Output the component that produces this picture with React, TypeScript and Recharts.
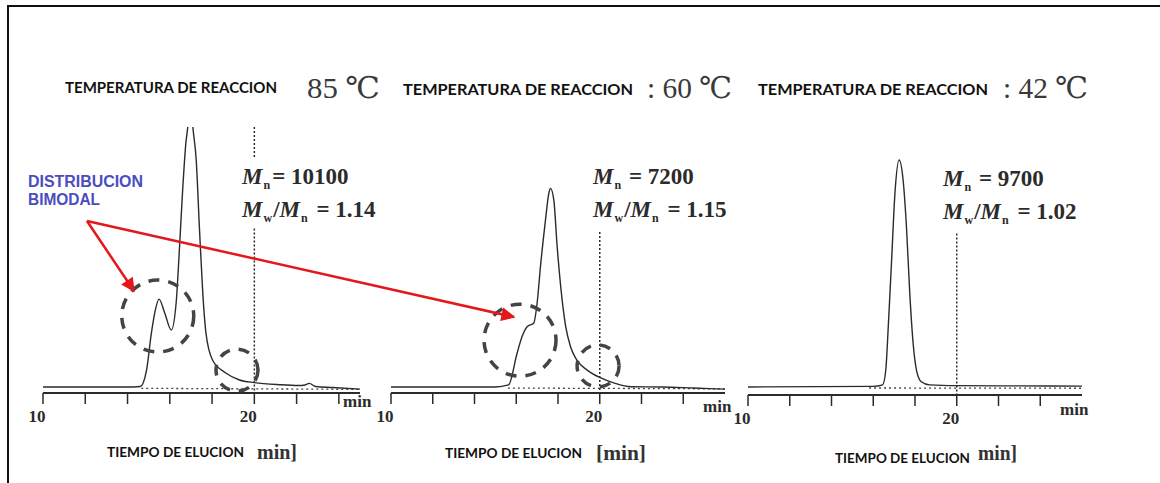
import React from 'react';
import { LineChart, Line, XAxis, YAxis, ReferenceLine, ReferenceDot } from 'recharts';

// eje de tiempo (min)
const timeTicks = [10, 12, 14, 16, 18, 20, 22, 24];
const labeledTicks = [10, 20];

// 85 °C
const time85 = [10, 14, 14.6, 14.9, 15.13, 15.3, 15.49, 15.76, 16.07, 16.3, 16.46, 16.6, 16.76, 16.85, 16.97, 17.09, 17.25, 17.4, 17.56, 17.71, 18.02, 18.65, 19.3, 20, 21.2, 22.1, 22.4, 22.6, 22.9, 23.7, 25];
const signal85 = [0, 0, 0.2, 6.5, 20.8, 29, 33.8, 28.5, 21.9, 32.3, 53.8, 74.6, 93.8, 100, 112, 100, 87.3, 61.5, 36.2, 20.8, 10.4, 5.4, 2.7, 1.7, 0.9, 0.6, 0.8, 1.4, 0.2, -0.2, -0.8];
const baseTime85 = [14.65, 25];
const baseSignal85 = [-0.5, -0.9];

// 60 °C
const time60 = [10, 15, 15.63, 16.04, 16.28, 16.52, 16.84, 17.0, 17.16, 17.4, 17.56, 17.64, 17.8, 17.96, 18.13, 18.37, 18.6, 18.9, 19.4, 20.05, 20.7, 21.5, 23, 24.5, 26];
const signal60 = [0, 0, 0.8, 13, 19.4, 23.2, 24.6, 32.3, 46.3, 64.2, 74.5, 76.4, 71.9, 54, 38.6, 23.2, 15.5, 10.4, 6.5, 3.5, 1.5, 0.1, 0, -0.4, -0.8];
const baseTime60 = [15.6, 26];
const baseSignal60 = [-0.4, -0.7];

// 42 °C
const time42 = [10, 16, 16.45, 16.6, 16.72, 16.88, 17.04, 17.24, 17.43, 17.59, 17.75, 17.91, 18.07, 18.3, 18.7, 20, 23, 26];
const signal42 = [0, 0.2, 0.8, 6.5, 23.2, 48.8, 74.6, 87.3, 79.6, 61.7, 36, 16.8, 6.5, 2, 0.8, 0.5, 0.4, 0.3];
const baseTime42 = [15.8, 26];
const baseSignal42 = [-0.4, -0.5];

const toRows = (xs: number[], ys: number[]) => xs.map((t, i) => ({ t, v: ys[i] }));

const INK = '#2b2b2b';
const SERIF = "'Liberation Serif', 'DejaVu Serif', serif";
const SANS = "Lato, 'Open Sans', sans-serif";

const AxisTick = ({ x, y, payload }: any) => {
  if (!labeledTicks.includes(payload.value)) return <g />;
  return (
    <text x={x - 6} y={y} dy={16} textAnchor="middle" fontFamily={SERIF} fontWeight="bold" fontSize={17} fill={INK}>
      {payload.value}
    </text>
  );
};

function Chromatogram(p: any) {
  const wrapTop = 100;
  const axisH = 47;
  const width = p.plotRight - p.plotLeft + 60;
  const height = p.plotBottom + axisH - wrapTop;
  return (
    <div style={{ position: 'absolute', left: p.plotLeft - 20, top: wrapTop }}>
      <LineChart width={width} height={height} margin={{ top: p.plotTop - wrapTop, right: 40, left: 20, bottom: 0 }}>
        <XAxis
          type="number"
          dataKey="t"
          domain={[10, p.xMax]}
          ticks={timeTicks}
          interval={0}
          tick={<AxisTick />}
          tickSize={11}
          tickLine={{ stroke: INK, strokeWidth: 1.5 }}
          axisLine={{ stroke: INK, strokeWidth: 2 }}
          height={axisH}
          allowDataOverflow
        />
        <YAxis hide type="number" domain={[p.yMin, 100]} allowDataOverflow />
        <Line
          data={p.baseline}
          dataKey="v"
          type="linear"
          stroke="#444"
          strokeWidth={1.3}
          strokeDasharray="2 3"
          dot={false}
          isAnimationActive={false}
        />
        <Line
          data={p.trace}
          dataKey="v"
          type="monotone"
          stroke={INK}
          strokeWidth={1.4}
          dot={false}
          isAnimationActive={false}
        />
        {p.cutLines.map(([a, b]: number[], i: number) => (
          <ReferenceLine
            key={i}
            segment={[{ x: 20, y: a }, { x: 20, y: b }]}
            stroke={INK}
            strokeWidth={1.5}
            strokeDasharray="2 2"
            ifOverflow="visible"
          />
        ))}
        {p.circles.map((c: any, i: number) => (
          <ReferenceDot
            key={i}
            x={c.t}
            y={c.v}
            r={c.r}
            fill="none"
            stroke="#444"
            strokeWidth={3.5}
            strokeDasharray="11 9"
            ifOverflow="visible"
          />
        ))}
      </LineChart>
    </div>
  );
}

const Ratio = ({ x, y, mn, ratio, gap }: any) => (
  <g fontFamily={SERIF} fontWeight="bold" fontSize={23} fill={INK}>
    <text x={x} y={y}>
      <tspan fontStyle="italic">M</tspan>
      <tspan fontSize={12} dy={5} dx={1}>n</tspan>
      <tspan dy={-5} dx={2}>{gap ? '=  ' : ' = '}{mn}</tspan>
    </text>
    <text x={x} y={y + 33}>
      <tspan fontStyle="italic">M</tspan>
      <tspan fontSize={12} dy={5} dx={1}>w</tspan>
      <tspan dy={-5} dx={1}>/</tspan>
      <tspan fontStyle="italic">M</tspan>
      <tspan fontSize={12} dy={5} dx={1}>n</tspan>
      <tspan dy={-5} dx={3}> = {ratio}</tspan>
    </text>
  </g>
);

export default function App() {
  const red = '#e3171c';
  return (
    <div style={{ position: 'absolute', left: 0, top: 0, width: 1160, height: 483, background: '#fff', overflow: 'hidden' }}>
      <div style={{ position: 'absolute', left: 8, top: 5, right: 0, height: 2, background: '#111' }} />
      <div style={{ position: 'absolute', left: 7, top: 5, width: 2, bottom: 0, background: '#111' }} />

      <Chromatogram
        plotLeft={43}
        plotRight={360}
        plotTop={127}
        plotBottom={393}
        xMax={25}
        yMin={-2.3}
        trace={toRows(time85, signal85)}
        baseline={toRows(baseTime85, baseSignal85)}
        cutLines={[[100, 88], [61, -2.3]]}
        circles={[{ t: 15.43, v: 27.3, r: 36 }, { t: 19.18, v: 6.5, r: 21 }]}
      />
      <Chromatogram
        plotLeft={391}
        plotRight={725}
        plotTop={127}
        plotBottom={393}
        xMax={26}
        yMin={-2.3}
        trace={toRows(time60, signal60)}
        baseline={toRows(baseTime60, baseSignal60)}
        cutLines={[[59.6, -2.3]]}
        circles={[{ t: 16.18, v: 18, r: 36 }, { t: 19.92, v: 8.1, r: 21 }]}
      />
      <Chromatogram
        plotLeft={748}
        plotRight={1082}
        plotTop={127}
        plotBottom={395}
        xMax={26}
        yMin={-3.1}
        trace={toRows(time42, signal42)}
        baseline={toRows(baseTime42, baseSignal42)}
        cutLines={[[59, -3.1]]}
        circles={[]}
      />

      <svg width={1160} height={483} style={{ position: 'absolute', left: 0, top: 0, pointerEvents: 'none' }}>
        <defs>
          <marker id="ah" viewBox="0 0 10 10" refX="9" refY="5" markerWidth="17" markerHeight="14" markerUnits="userSpaceOnUse" orient="auto">
            <path d="M0,0 L10,5 L0,10 z" fill={red} />
          </marker>
        </defs>

        <g fontFamily={SANS} fontWeight={700} fontSize={15} fill="#111">
          <text x={65} y={93} textLength={212} lengthAdjust="spacingAndGlyphs">TEMPERATURA DE REACCION</text>
          <text x={403} y={95} textLength={230} lengthAdjust="spacingAndGlyphs">TEMPERATURA DE REACCION</text>
          <text x={758} y={95} textLength={230} lengthAdjust="spacingAndGlyphs">TEMPERATURA DE REACCION</text>
        </g>
        <g fontFamily={SERIF} fontSize={30} fill="#3a3a3a">
          <text x={307} y={98} textLength={73} lengthAdjust="spacingAndGlyphs">85 ℃</text>
          <text x={647} y={98} textLength={85} lengthAdjust="spacingAndGlyphs">: 60 ℃</text>
          <text x={1003} y={98} textLength={85} lengthAdjust="spacingAndGlyphs">: 42 ℃</text>
        </g>

        <Ratio x={242} y={184} mn="10100" ratio="1.14" gap />
        <Ratio x={593} y={184} mn="7200" ratio="1.15" />
        <Ratio x={943} y={186} mn="9700" ratio="1.02" />

        <g fontFamily={SERIF} fontWeight="bold" fontSize={17} fill={INK}>
          <text x={343} y={407}>min</text>
          <text x={703} y={412}>min</text>
          <text x={1060} y={415}>min</text>
        </g>

        <g fontFamily={SANS} fontWeight={700} fontSize={12.5} fill="#111">
          <text x={107} y={457} textLength={137} lengthAdjust="spacingAndGlyphs">TIEMPO DE ELUCION</text>
          <text x={445} y={458} textLength={137} lengthAdjust="spacingAndGlyphs">TIEMPO DE ELUCION</text>
          <text x={835} y={463} textLength={135} lengthAdjust="spacingAndGlyphs">TIEMPO DE ELUCION</text>
        </g>
        <g fontFamily={SERIF} fontWeight="bold" fontSize={20} fill="#333">
          <text x={257} y={459} textLength={40} lengthAdjust="spacingAndGlyphs">min]</text>
          <text x={596} y={460} textLength={50} lengthAdjust="spacingAndGlyphs">[min]</text>
          <text x={978} y={460} textLength={39} lengthAdjust="spacingAndGlyphs">min]</text>
        </g>

        <g fontFamily="'Liberation Sans', Arial, sans-serif" fontWeight="bold" fontSize={16} fill="#4b4dbf">
          <text x={28} y={187} textLength={115} lengthAdjust="spacingAndGlyphs">DISTRIBUCION</text>
          <text x={28} y={205} textLength={72} lengthAdjust="spacingAndGlyphs">BIMODAL</text>
        </g>

        <line x1={87} y1={221} x2={134} y2={291} stroke={red} strokeWidth={2.5} markerEnd="url(#ah)" />
        <line x1={87} y1={221} x2={514} y2={317} stroke={red} strokeWidth={2.5} markerEnd="url(#ah)" />
      </svg>
    </div>
  );
}
